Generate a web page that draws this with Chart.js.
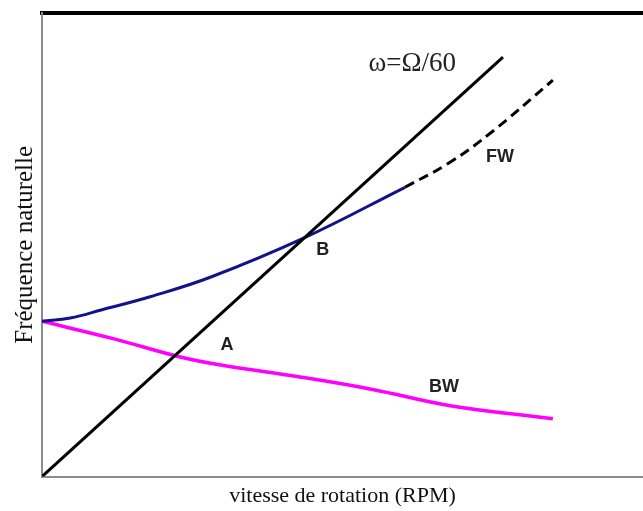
<!DOCTYPE html>
<html>
<head>
<meta charset="utf-8">
<script src="https://cdn.jsdelivr.net/npm/chart.js@4/dist/chart.umd.min.js"></script>
<style>
  body { margin: 0; background: #fff; }
  canvas { display: block; }
</style>
</head>
<body>
<canvas id="myChart" width="643" height="511"></canvas>
<script>
// values (x: speed, y: natural frequency, arbitrary units 0..10)
var omegaX = [0, 7.67];
var omegaY = [0, 9.05];

var fwX = [0, 0.47, 1.00, 1.80, 2.80, 4.38, 6.04];
var fwY = [3.35, 3.42, 3.60, 3.88, 4.30, 5.16, 6.24];

var fwDashX = [6.04, 6.79, 7.50, 8.50];
var fwDashY = [6.24, 6.78, 7.45, 8.55];

var bwX = [0, 1.20, 2.30, 3.00, 4.29, 5.50, 6.79, 8.50];
var bwY = [3.35, 2.97, 2.58, 2.40, 2.15, 1.88, 1.53, 1.25];

// annotations
var labelText = ['ω=Ω/60', 'FW', 'B', 'A', 'BW'];
var labelX = [6.16, 7.62, 4.67, 3.08, 6.69];
var labelY = [8.90, 6.89, 4.88, 2.83, 1.94];

function toPoints(xs, ys) {
    let pts = [];
    for (let i = 0; i < xs.length; i++) {
        pts.push({ x: xs[i], y: ys[i] });
    }
    return pts;
}

// writes the letters / formula on the plot at data positions
var labelPlugin = {
    id: 'labels',
    afterDatasetsDraw: function (chart) {
        const ctx = chart.ctx;
        const xs = chart.scales.x;
        const ys = chart.scales.y;
        ctx.save();
        ctx.textAlign = 'center';
        ctx.textBaseline = 'middle';
        ctx.fillStyle = '#222';
        for (let i = 0; i < labelText.length; i++) {
            if (i === 0) {
                ctx.font = '27px "Liberation Serif", serif';
            } else {
                ctx.font = 'bold 18px "Liberation Sans", Arial, sans-serif';
            }
            ctx.fillText(labelText[i], xs.getPixelForValue(labelX[i]), ys.getPixelForValue(labelY[i]));
        }
        ctx.restore();
    }
};

function main() {
    var ctx = document.getElementById('myChart').getContext('2d');
    var chart = new Chart(ctx, {
        type: 'line',
        data: {
            datasets: [{
                label: 'omega',
                data: toPoints(omegaX, omegaY),
                borderColor: '#000',
                borderWidth: 3,
                pointRadius: 0,
                tension: 0
            }, {
                label: 'FW',
                data: toPoints(fwX, fwY),
                borderColor: '#12128a',
                borderWidth: 3,
                pointRadius: 0,
                tension: 0.4
            }, {
                label: 'FW extrapolated',
                data: toPoints(fwDashX, fwDashY),
                borderColor: '#000',
                borderWidth: 3,
                borderDash: [10, 6],
                pointRadius: 0,
                tension: 0.4
            }, {
                label: 'BW',
                data: toPoints(bwX, bwY),
                borderColor: '#ff00ff',
                borderWidth: 3.5,
                pointRadius: 0,
                tension: 0.4
            }]
        },
        options: {
            responsive: false,
            animation: false,
            layout: { padding: { top: 13, right: 0, left: 2, bottom: 0 } },
            plugins: {
                legend: { display: false },
                tooltip: { enabled: false }
            },
            scales: {
                x: {
                    type: 'linear',
                    min: 0,
                    max: 10,
                    ticks: { display: false },
                    grid: { display: false, drawTicks: false },
                    border: { display: true, color: '#8c8c8c', width: 2 },
                    title: {
                        display: true,
                        text: 'vitesse de rotation (RPM)',
                        color: '#111',
                        font: { family: '"Liberation Serif", serif', size: 22 },
                        padding: { top: 6, bottom: 2 }
                    }
                },
                x2: {
                    type: 'linear',
                    position: 'top',
                    min: 0,
                    max: 10,
                    ticks: { display: false },
                    grid: { display: false, drawTicks: false },
                    border: { display: true, color: '#000', width: 4 }
                },
                y: {
                    type: 'linear',
                    min: 0,
                    max: 10,
                    ticks: { display: false },
                    grid: { display: false, drawTicks: false },
                    border: { display: true, color: '#8c8c8c', width: 2 },
                    title: {
                        display: true,
                        text: 'Fréquence naturelle',
                        color: '#111',
                        font: { family: '"Liberation Serif", serif', size: 25 },
                        padding: { top: 8, bottom: 2 }
                    }
                }
            }
        },
        plugins: [labelPlugin]
    });
}

main();
</script>
</body>
</html>
